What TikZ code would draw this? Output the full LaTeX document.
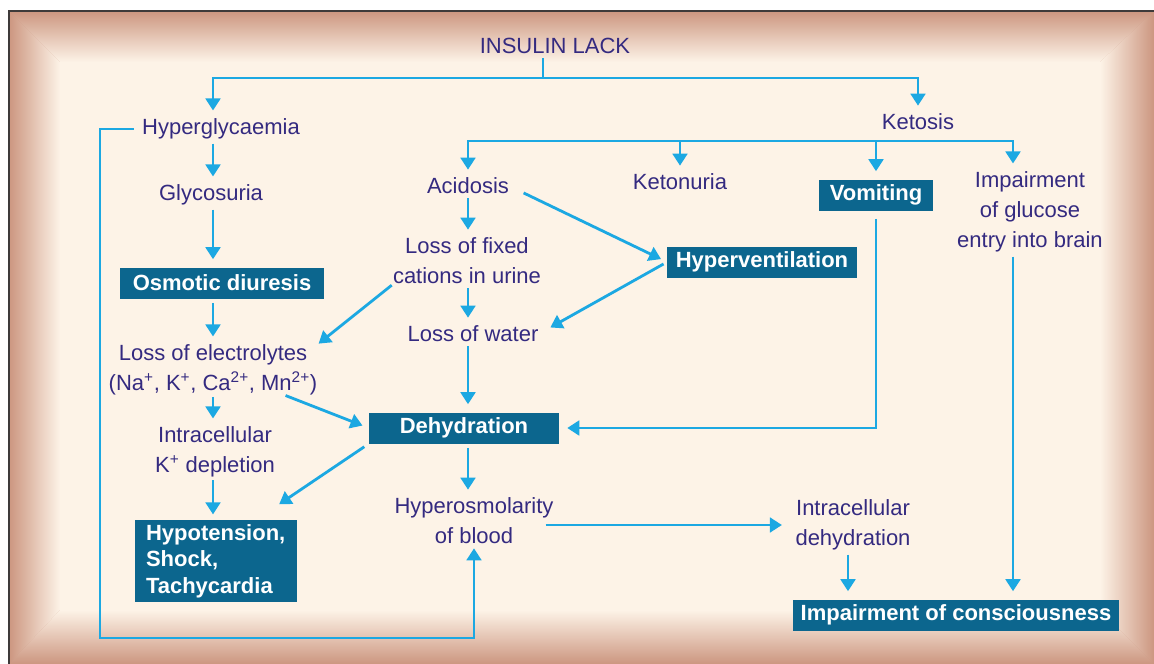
\documentclass[tikz,border=0pt]{standalone}
\usepackage{fontspec}
\setmainfont{Liberation Sans}
\usetikzlibrary{arrows.meta,positioning,calc}
\definecolor{inkblue}{RGB}{52,42,128}
\definecolor{boxteal}{RGB}{12,102,142}
\definecolor{arrowcyan}{RGB}{28,168,226}
\definecolor{frameedge}{RGB}{204,150,128}
\definecolor{cream}{RGB}{253,243,231}
\definecolor{framedark}{RGB}{62,58,58}

\begin{document}
\begin{tikzpicture}[x=0.75pt, y=-0.75pt,
  every node/.style={font=\fontsize{16.5}{22.5}\selectfont, inner sep=0pt},
  lbl/.style={text=inkblue, align=center},
  hbox/.style={fill=boxteal, text=white, font=\fontsize{16.5}{20}\selectfont\bfseries,
    minimum height=23.25pt, inner xsep=6pt},
  link/.style={draw=arrowcyan, line width=2.1pt},
  arr/.style={link, -{Triangle[width=11pt,length=9pt]}, shorten <=3pt, shorten >=6pt}]
  \useasboundingbox (0,0) rectangle (1154,664);

  % Frame
  \fill[frameedge] (9,11) rectangle (1154,664);
  \shade[top color=frameedge, bottom color=cream] (9,11) -- (1154,11) -- (1100,62) -- (60,62) -- cycle;
  \shade[left color=frameedge, right color=cream] (9,11) -- (60,62) -- (60,610) -- (9,664) -- cycle;
  \shade[left color=cream, right color=frameedge] (1154,11) -- (1100,62) -- (1100,610) -- (1154,664) -- cycle;
  \shade[top color=cream, bottom color=frameedge] (60,610) -- (1100,610) -- (1154,664) -- (9,664) -- cycle;
  \fill[cream] (60,62) rectangle (1100,610);
  \draw[framedark, line width=1.5pt] (9,664) -- (9,11) -- (1154,11);

  % Columns
  \coordinate (cA) at (213,0);
  \coordinate (cB) at (468,0);
  \coordinate (cG) at (1013,0);
  \coordinate (cI) at (848,0);
  \coordinate (split) at (543,78);
  \coordinate (kbar) at (918,141);
  \coordinate (loopbot) at (100,638);

  % Top
  \node[lbl] (insulin) at (555,46) {INSULIN LACK};
  \node[lbl] (hyperg) at (221,129) {Hyperglycaemia};
  \node[lbl] (ketosis) at (918,122) {Ketosis};

  % Ketosis branch
  \node[lbl] (acid) at (468,186) {Acidosis};
  \node[lbl] (ketonuria) at (680,182) {Ketonuria};
  \node[hbox, minimum width=86pt] (vomit) at (876,195) {Vomiting};
  \node[lbl] (impglu) at (1030,212) {Impairment\\of glucose\\entry into brain};
  \node[lbl] (fixcat) at (467,261) {Loss of fixed\\cations in urine};
  \node[hbox, minimum width=142pt] (hypvent) at (762,262) {Hyperventilation};
  \node[lbl] (water) at (473,334) {Loss of water};

  % Hyperglycaemia branch
  \node[lbl] (glyco) at (211,195) {Glycosuria};
  \node[hbox, minimum width=153pt] (osmo) at (222,283) {Osmotic diuresis};
  \node[lbl] (elec) at (213,370) {Loss of electrolytes\\(Na\textsuperscript{+}, K\textsuperscript{+}, Ca\textsuperscript{2+}, Mn\textsuperscript{2+})};
  \node[lbl] (kdep) at (215,452) {Intracellular\\K\textsuperscript{+} depletion};
  \node[hbox, align=left, text width=105pt, inner xsep=8pt, minimum height=61.5pt] (hypot) at (216,561) {Hypotension,\\Shock,\\Tachycardia};

  % Bottom
  \node[hbox, minimum width=142.5pt] (dehyd) at (464,428) {Dehydration};
  \node[lbl] (hyperosm) at (474,521) {Hyperosmolarity\\of blood};
  \node[lbl] (icdehyd) at (853,525) {Intracellular\\dehydration};
  \node[hbox, minimum width=241pt] (impcons) at (956,615) {Impairment of consciousness};

  % Connectors
  \draw[link, shorten <=3pt] (split |- insulin.south) -- (split);
  \draw[arr, shorten <=0pt] (split) -| (hyperg.north -| cA);
  \draw[arr, shorten <=0pt] (split) -| (ketosis);
  \draw[arr, shorten <=0pt] (kbar) -| (acid.north -| cB);
  \draw[arr, shorten <=0pt] (kbar) -| (ketonuria);
  \draw[arr, shorten <=0pt] (kbar) -| (vomit);
  \draw[arr, shorten <=0pt] (kbar) -| (impglu.north -| cG);

  \draw[arr] (hyperg.south -| cA) -- (glyco.north -| cA);
  \draw[arr] (glyco.south -| cA) -- (osmo.north -| cA);
  \draw[arr] (osmo.south -| cA) -- (elec.north -| cA);
  \draw[arr, shorten <=1pt] (elec.south -| cA) -- (kdep.north -| cA);
  \draw[arr, shorten <=2pt, shorten >=4pt] (kdep.south -| cA) -- (hypot.north -| cA);

  \draw[arr] (acid.south -| cB) -- (fixcat.north -| cB);
  \draw[arr] (fixcat.south -| cB) -- (water.north -| cB);
  \draw[arr] (water.south -| cB) -- (dehyd.north -| cB);
  \draw[arr] (dehyd.south -| cB) -- (hyperosm.north -| cB);

  \draw[arr, shorten <=12pt, shorten >=5pt] (acid.east) -- (hypvent.west);
  \draw[arr, shorten >=10pt] (hypvent.west) -- (water.east);
  \draw[arr, shorten <=1pt, shorten >=1pt] (fixcat.south west) -- (elec.north east);
  \draw[arr, shorten <=0pt, shorten >=5pt] ($(elec.south east)+(-32,0)$) -- (dehyd.west);
  \draw[arr, shorten <=4pt, shorten >=2pt] (dehyd.south west) -- ($(hypot.north east)+(-20,-14)$);
  \draw[arr, shorten <=6pt] (vomit.south) |- (dehyd.east);

  \draw[arr, shorten <=-6pt, shorten >=10pt] (hyperosm.east |- icdehyd.west) -- (icdehyd.west);
  \draw[arr] (icdehyd.south -| cI) -- (impcons.north -| cI);
  \draw[arr] (impglu.south -| cG) -- (impcons.north -| cG);
  \draw[arr, shorten <=6pt, shorten >=3pt] (hyperg.west) -| (loopbot) -| (hyperosm.south);
\end{tikzpicture}
\end{document}
